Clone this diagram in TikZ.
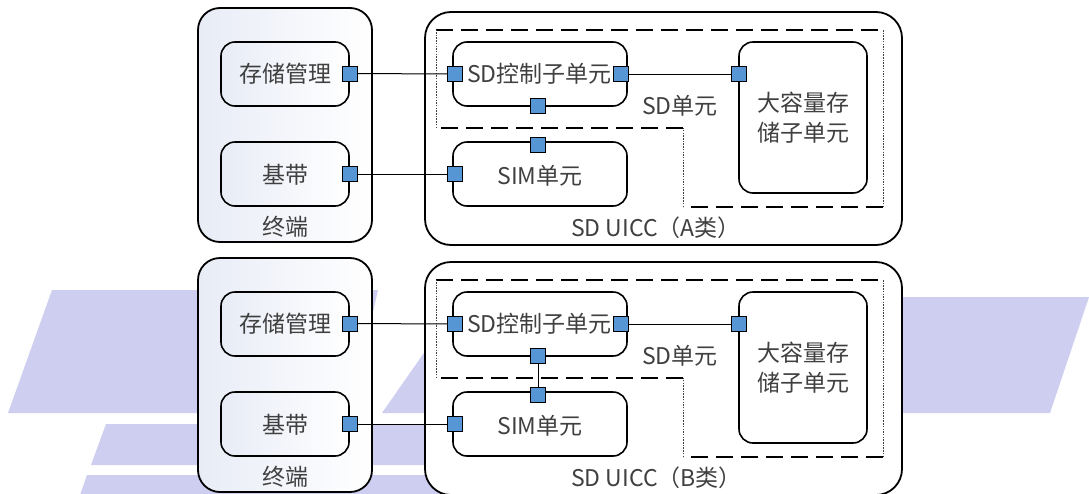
\documentclass[tikz,border=0pt]{standalone}
\usepackage{fontspec}
\setmainfont{Noto Sans CJK SC}
\definecolor{wm}{RGB}{206,206,241}
\definecolor{portblue}{RGB}{86,150,212}
\definecolor{txt}{RGB}{64,64,64}
\definecolor{tint}{RGB}{232,236,246}
\tikzset{
 bigbox/.style={draw=black, line width=1.8pt, inner sep=0pt, fill=white},
 unitbox/.style={draw=black, line width=1.6pt, rounded corners=14pt, fill=white, inner sep=0pt},
 tinted/.style={left color=tint, middle color=white, right color=white},
 portsq/.style={draw=black, line width=1pt, fill=portblue, minimum size=15pt, inner sep=0pt},
 txtlab/.style={text=txt, font=\fontsize{23}{30}\selectfont, inner sep=0pt},
 wire/.style={line width=1pt, draw=black},
 thickdash/.style={line width=2.6pt, dash pattern=on 17pt off 8pt},
 thindot/.style={line width=0.7pt, dash pattern=on 1.5pt off 1.2pt, draw=black!75},
}
\newcommand{\sdunit}[4]{%
\begin{scope}[yshift=#2]
 % terminal
 \node[bigbox, tinted, rounded corners=22pt, minimum width=174pt, minimum height=234pt] (#1term) at (285,125) {};
 \node[unitbox, tinted, minimum width=128pt, minimum height=64pt] (#1mem) at (285,74) {};
 \node[txtlab] at (285,74) {存储管理};
 \node[unitbox, tinted, minimum width=128pt, minimum height=64pt] (#1bb) at (285,174) {};
 \node[txtlab] at (285,175) {基带};
 \node[txtlab] (#1termlab) at (285,227) {终端};
 % uicc
 \node[bigbox, rounded corners=26pt, minimum width=477pt, minimum height=233pt] (#1uicc) at (663.5,128.5) {};
 \node[unitbox, minimum width=174pt, minimum height=64pt] (#1ctl) at (540,74) {};
 \node[txtlab] at (539.5,74) {SD控制子单元};
 \node[unitbox, minimum width=174pt, minimum height=64pt] (#1sim) at (540,174) {};
 \node[txtlab] at (540,176) {SIM单元};
 \node[unitbox, minimum width=128pt, minimum height=151pt] (#1mass) at (803,117.5) {};
 \node[txtlab, align=center, font=\fontsize{23}{30}\selectfont] at (803,118) {大容量存\\储子单元};
 \node[txtlab, anchor=west] (#1sdlab) at (642,106) {SD单元};
 \node[txtlab, anchor=west] (#1uicclab) at (571,228) {#3};
 % dashed SD unit region
 \coordinate (#1d1) at (436,30);
 \coordinate (#1d2) at (883,30);
 \coordinate (#1d3) at (883,207);
 \coordinate (#1d4) at (683,207);
 \coordinate (#1d5) at (683,128);
 \coordinate (#1d6) at (436,128);
 \draw[thickdash] (#1d1) -- (#1d2);
 \draw[thickdash] (#1d3) -- (#1d4);
 \draw[thickdash] (#1d5) -- (#1d6);
 \draw[thindot] (#1d2) -- (#1d3);
 \draw[thindot] (#1d4) -- (#1d5);
 \draw[thindot] (#1d6) -- (#1d1);
 % ports
 \node[portsq] (#1p1) at (349.5,73.5) {};
 \node[portsq] (#1p2) at (455,74) {};
 \node[portsq] (#1p3) at (621,74) {};
 \node[portsq] (#1p4) at (739,74) {};
 \node[portsq] (#1p5) at (538,106) {};
 \node[portsq] (#1p6) at (538,144.5) {};
 \node[portsq] (#1p7) at (349.5,174) {};
 \node[portsq] (#1p8) at (455,174) {};
 % wires
 \draw[wire] (#1p1) -- (#1p2);
 \draw[wire] (#1p3) -- (#1p4);
 \draw[wire] (#1p7) -- (#1p8);
 \ifnum#4=1 \draw[wire] (#1p5) -- (#1p6);\fi
\end{scope}}
\begin{document}
\begin{tikzpicture}[x=1pt,y=-1pt]
\useasboundingbox (0,0) rectangle (1089,493);
\fill[white] (0,0) rectangle (1089,493);
% watermark
\fill[wm] (52,290) -- (378,290) -- (350,413) -- (8,413) -- cycle;
\fill[wm] (463,297) -- (1089,297) -- (1050,413) -- (382,413) -- cycle;
\fill[wm] (106,424) -- (660,424) -- (646,465) -- (91,465) -- cycle;
\fill[wm] (87,475) -- (660,475) -- (653,495) -- (80,495) -- cycle;
\sdunit{A}{0pt}{SD UICC（A类）}{0}
\sdunit{B}{-250pt}{SD UICC（B类）}{1}
\end{tikzpicture}
\end{document}
